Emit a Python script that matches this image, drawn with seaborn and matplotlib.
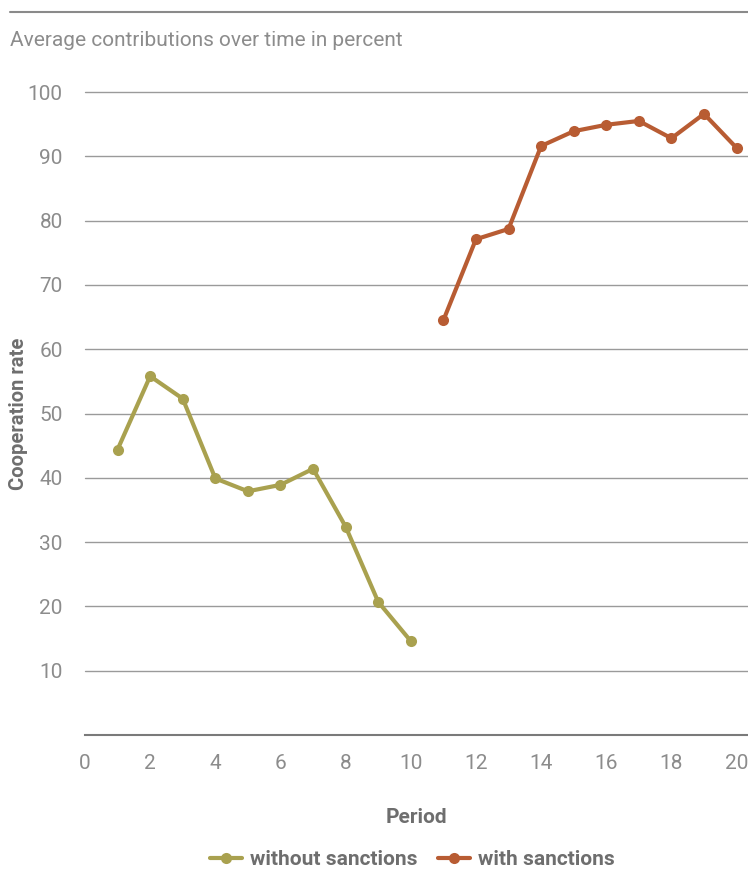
import matplotlib
matplotlib.use("Agg")
import matplotlib.pyplot as plt
from matplotlib.lines import Line2D
import seaborn as sns
import pandas as pd

periods_without = [1, 2, 3, 4, 5, 6, 7, 8, 9, 10]
values_without = [44.4, 55.8, 52.3, 39.9, 37.9, 38.9, 41.4, 32.4, 20.7, 14.6]
periods_with = [11, 12, 13, 14, 15, 16, 17, 18, 19, 20]
values_with = [64.5, 77.1, 78.7, 91.6, 93.9, 94.9, 95.5, 92.8, 96.6, 91.3]
series_names = ["without sanctions", "with sanctions"]
x_ticks = [0, 2, 4, 6, 8, 10, 12, 14, 16, 18, 20]
y_ticks = [10, 20, 30, 40, 50, 60, 70, 80, 90, 100]

df = pd.DataFrame({
    "Period": periods_without + periods_with,
    "rate": values_without + values_with,
    "series": [series_names[0]] * len(periods_without) + [series_names[1]] * len(periods_with),
})

sns.set_theme(style="white")
plt.rcParams["font.family"] = ["Roboto", "DejaVu Sans"]

fig = plt.figure(figsize=(7.48, 8.9), dpi=100)
ax = fig.add_axes([85 / 748, 1 - 735 / 890, 663 / 748, (735 - 92) / 890])

palette = {"without sanctions": "#A9A14F", "with sanctions": "#B85C33"}
sns.lineplot(data=df, x="Period", y="rate", hue="series", palette=palette,
             marker="o", markersize=8, markeredgewidth=0, linewidth=3.0,
             ax=ax, legend=True)

ax.set_xlim(0, 20.35)
ax.set_ylim(0, 100)
ax.set_xticks(x_ticks)
ax.set_yticks(y_ticks)
for v in y_ticks:
    ax.axhline(v, color="#9a9a9a", linewidth=1.0, zorder=0, clip_on=False)

for s in ["top", "right", "left"]:
    ax.spines[s].set_visible(False)
ax.spines["bottom"].set_color("#7a7a7a")
ax.spines["bottom"].set_linewidth(1.5)
ax.tick_params(axis="x", direction="out", length=7, width=1.3, color="#7a7a7a",
               labelsize=15, labelcolor="#8c8c8c", pad=7)
ax.tick_params(axis="y", length=0, labelsize=15, labelcolor="#8c8c8c", pad=16)

ax.set_xlabel("Period", fontsize=15, fontweight="bold", color="#6e6e6e", labelpad=25)
ax.set_ylabel("Cooperation rate", fontsize=14.5, fontweight="bold", color="#6e6e6e")
ax.yaxis.set_label_coords(-57 / 663, 0.5)

handles, labels = ax.get_legend_handles_labels()
leg = ax.legend(handles=handles, labels=labels, loc="upper center",
                bbox_to_anchor=(0.5 - 4 / 663, -0.150), ncol=2, frameon=False,
                fontsize=15, handlelength=1.5, columnspacing=1.0, handletextpad=0.4)
for t in leg.get_texts():
    t.set_color("#6e6e6e")
    t.set_fontweight("bold")

fig.text(10 / 748, 1 - 41 / 890, "Average contributions over time in percent",
         fontsize=15, color="#8c8c8c", va="center", ha="left")
fig.add_artist(Line2D([10 / 748, 1.0], [1 - 12 / 890, 1 - 12 / 890],
                      color="#8a8a8a", linewidth=1.5, transform=fig.transFigure))

fig.savefig("out.png", dpi=100, facecolor="white")
